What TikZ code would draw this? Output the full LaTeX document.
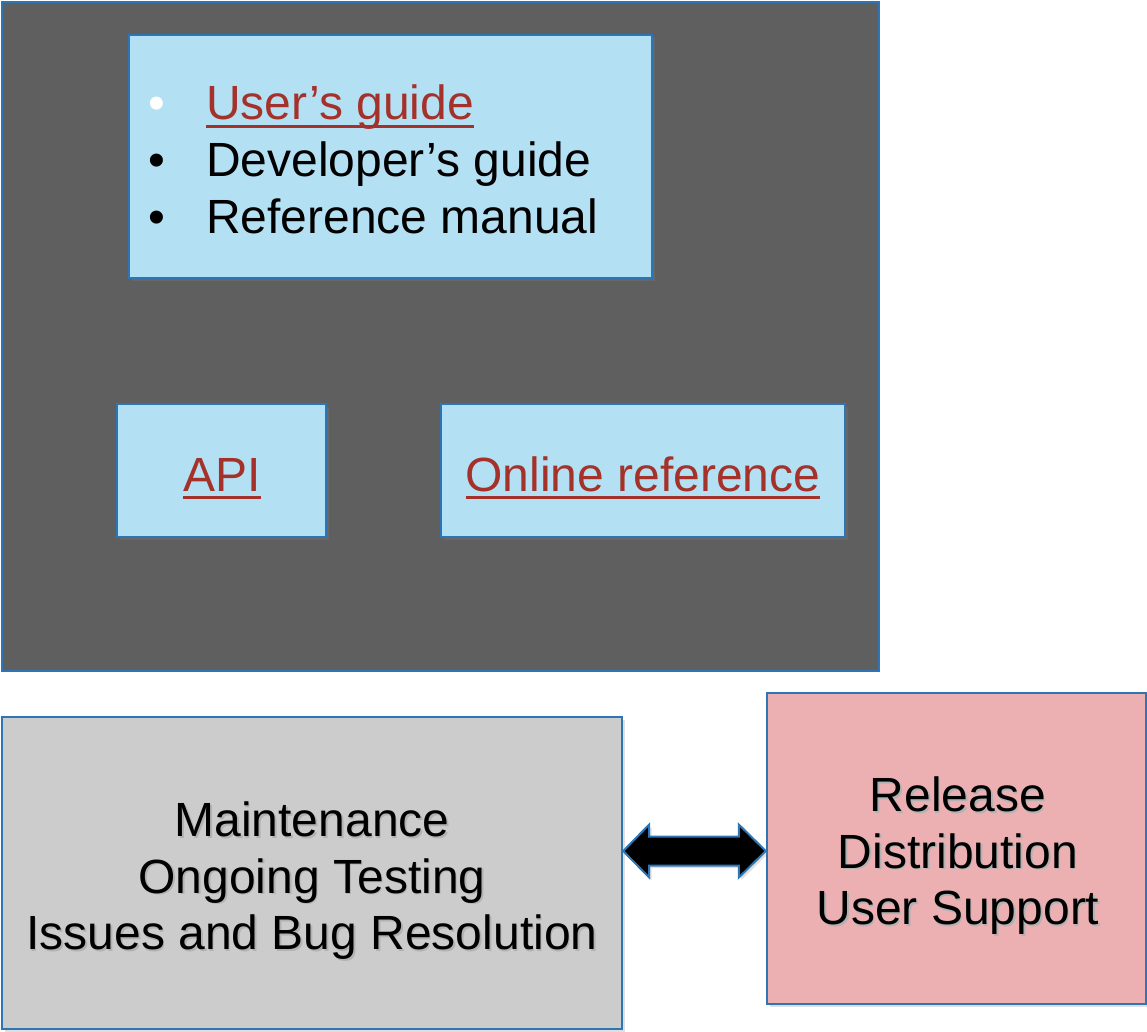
\documentclass[tikz,border=0pt]{standalone}
\usepackage{fontspec}
\setmainfont{Liberation Sans}
\usetikzlibrary{shadows,calc}

\definecolor{panelgray}{HTML}{5F5F5F}
\definecolor{edgeblue}{HTML}{2E75B6}
\definecolor{skyfill}{HTML}{B4E0F4}
\definecolor{linkred}{HTML}{A5322A}
\definecolor{maintgray}{HTML}{CCCCCC}
\definecolor{releasepink}{HTML}{EDB0B2}

% underlined hyperlink-style text
\newcommand\linktext[1]{\textcolor{linkred}{\setbox0=\hbox{#1}\rlap{\rule[-8.4pt]{\wd0}{3.2pt}}\box0}}
% text with a faint offset shadow
\newcommand\softshadow[1]{\rlap{\hspace{1.5pt}\raisebox{-1.5pt}{\textcolor{black!30}{#1}}}#1}

\begin{document}
\begin{tikzpicture}[x=1pt,y=-1pt,
  box/.style={draw=edgeblue, line width=2.4pt, rectangle, inner sep=0pt},
  shade/.style={drop shadow={opacity=0.25, shadow xshift=2.5pt, shadow yshift=-2.5pt}},
  txt/.style={font=\fontsize{48}{57}\selectfont, inner sep=0pt, anchor=base},
  ltxt/.style={txt, anchor=base west}]

\useasboundingbox (0,0) rectangle (1147,1032);

% documentation panel
\node[box, fill=panelgray, minimum width=877pt, minimum height=669pt] (panel) at (440.5,336.5) {};
\node[box, shade, fill=skyfill, minimum width=523pt, minimum height=243pt] (guides) at (390.5,156.5) {};
\node[box, shade, fill=skyfill, minimum width=209pt, minimum height=133pt] (api) at (221.5,470.5) {};
\node[box, shade, fill=skyfill, minimum width=404pt, minimum height=133pt] (online) at (643,470.5) {};

% bullet list
\node[txt, text=white] (b1) at (157,119.5) {•};
\node[txt] (b2) at (157,176.5) {•};
\node[txt] (b3) at (157,233.5) {•};
\node[ltxt] (l1) at (206,119.5) {\linktext{User’s guide}};
\node[ltxt] (l2) at (206,176.5) {Developer’s guide};
\node[ltxt] (l3) at (206,233.5) {Reference manual};

\node[txt] (apit) at (222,491) {\linktext{API}};
\node[txt] (onlinet) at (643,491) {\linktext{Online reference}};

% maintenance and release
\node[box, shade, fill=maintgray, minimum width=620pt, minimum height=312pt] (maint) at (312,873) {};
\node[box, shade, fill=releasepink, minimum width=379pt, minimum height=311pt] (release) at (956.5,848.5) {};

\node[txt] (m1) at (312,836.5) {\softshadow{Maintenance}};
\node[txt] (m2) at (312,893) {\softshadow{Ongoing Testing}};
\node[txt] (m3) at (312,949.5) {\softshadow{Issues and Bug Resolution}};

\node[txt] (r1) at (958,811.5) {\softshadow{Release}};
\node[txt] (r2) at (958,868) {\softshadow{Distribution}};
\node[txt] (r3) at (958,924.5) {\softshadow{User Support}};

% two-way arrow between the boxes
\coordinate (la) at ([yshift=22pt]maint.east);
\coordinate (ra) at ([yshift=-2.5pt]release.west);
\filldraw[fill=black, draw=edgeblue, line width=2pt, line join=miter, shade]
  (la) -- ++(26,-26.5) -- ++(0,12) -- ($(ra)+(-27,-14.5)$) -- ++(0,-12)
  -- (ra) -- ++(-27,26.5) -- ++(0,-12) -- ($(la)+(26,14.5)$) -- ++(0,12) -- cycle;

\end{tikzpicture}
\end{document}
